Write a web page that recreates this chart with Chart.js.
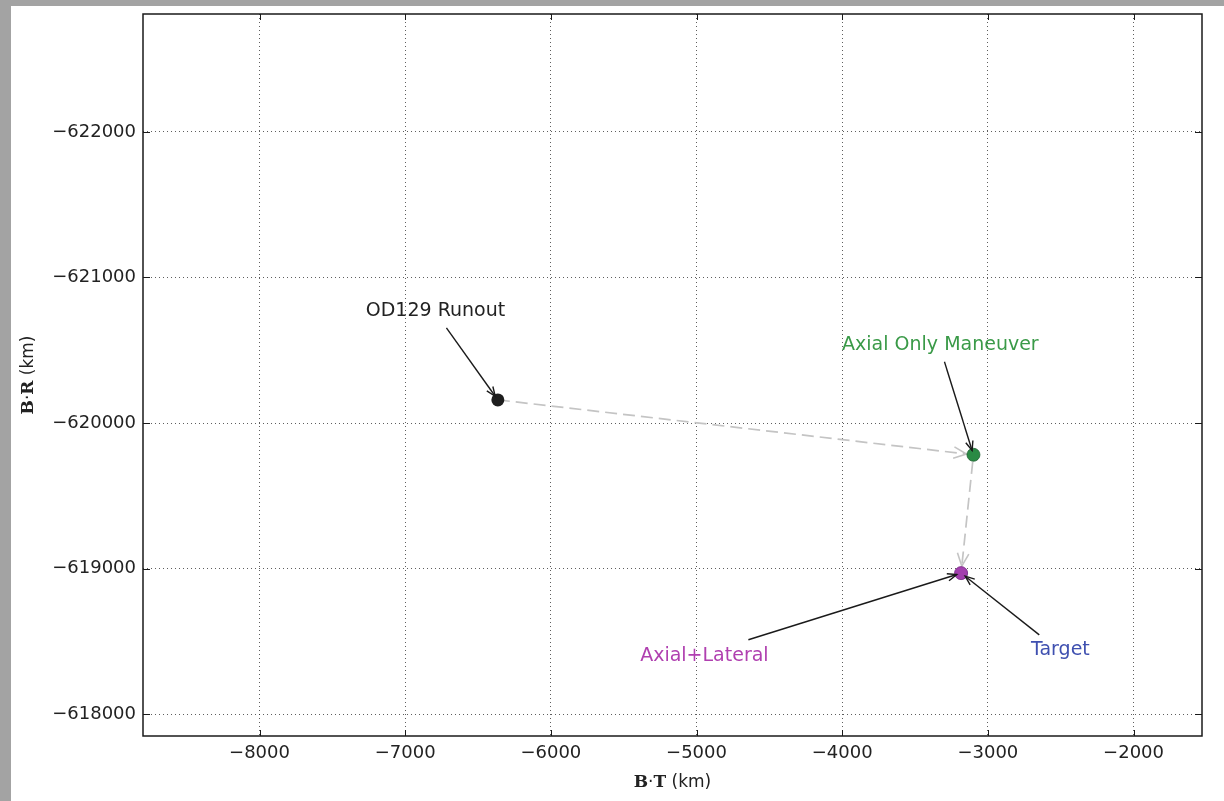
<!DOCTYPE html>
<html>
<head>
<meta charset="utf-8">
<script src="https://cdn.jsdelivr.net/npm/chart.js@4.4.1/dist/chart.umd.min.js"></script>
<style>
  html, body { margin: 0; padding: 0; }
  body { width: 1224px; height: 801px; background: #a3a3a3; position: relative; overflow: hidden; }
  #wrap { position: absolute; left: 11px; top: 6px; width: 1213px; height: 795px; background: #ffffff; }
  canvas { display: block; }
</style>
</head>
<body>
<div id="wrap"><canvas id="c" width="1213" height="795"></canvas></div>
<script>
// ---- data (B·T, B·R in km) ----
const pointNames = ['OD129 Runout', 'Axial Only Maneuver', 'Axial+Lateral', 'Target'];
const btValues = [-6364, -3099, -3184, -3180];
const brValues = [-620159, -619782, -618969, -618967];
// path of dashed transfer arrows (indices into points)
const pathOrder = [0, 1, 2];
// annotation text anchors (data coords) and arrow tails (data coords)
const labelBT = [-6792, -3326, -4946, -2502];
const labelBR = [-620771, -620537, -618401, -618442];
const tailBT = [-6717, -3298, -4644, -2647];
const tailBR = [-620654, -620421, -618511, -618545];
const xTicks = [-8000, -7000, -6000, -5000, -4000, -3000, -2000];
const yTicks = [-622000, -621000, -620000, -619000, -618000];
const xRange = [-8800, -1530];
const yRange = [-622810, -617850];

const pointColors = ['#1e1e1e', '#2a8a44', '#a23fae', '#3b4fb0'];
const labelColors = ['#222222', '#3a9a48', '#b040b0', '#3f50b0'];

const fmt = v => String(v).replace('-', '\u2212');

const pathData = pathOrder.map(i => ({x: btValues[i], y: brValues[i]}));

const datasets = [
  {
    label: 'path', data: pathData, showLine: true, borderColor: '#c4c4c4', borderWidth: 1.7,
    borderDash: [12, 6], pointRadius: 0, fill: false, order: 10
  },
  { label: pointNames[3], data: [{x: btValues[3], y: brValues[3]}], backgroundColor: pointColors[3], borderColor: pointColors[3], pointRadius: 6, borderWidth: 0, order: 5 },
  { label: pointNames[0], data: [{x: btValues[0], y: brValues[0]}], backgroundColor: pointColors[0], borderColor: pointColors[0], pointRadius: 6.5, borderWidth: 0, order: 1 },
  { label: pointNames[1], data: [{x: btValues[1], y: brValues[1]}], backgroundColor: pointColors[1], borderColor: '#1d5e2e', pointRadius: 6.5, borderWidth: 0.8, order: 1 },
  { label: pointNames[2], data: [{x: btValues[2], y: brValues[2]}], backgroundColor: pointColors[2], borderColor: '#7a2a85', pointRadius: 6.5, borderWidth: 0.8, order: 1 }
];

function arrowHead(ctx, x0, y0, x1, y1, len, ang) {
  const a = Math.atan2(y1 - y0, x1 - x0);
  ctx.beginPath();
  ctx.moveTo(x1 - len * Math.cos(a - ang), y1 - len * Math.sin(a - ang));
  ctx.lineTo(x1, y1);
  ctx.lineTo(x1 - len * Math.cos(a + ang), y1 - len * Math.sin(a + ang));
  ctx.stroke();
}

function drawMixed(ctx, parts, cx, cy) {
  let total = 0;
  parts.forEach(p => { ctx.font = p.f; p.w = ctx.measureText(p.t).width; total += p.w; });
  let x = cx - total / 2;
  ctx.textBaseline = 'middle';
  ctx.textAlign = 'left';
  parts.forEach(p => { ctx.font = p.f; ctx.fillText(p.t, x, cy); x += p.w; });
}

const decor = {
  id: 'decor',
  beforeDatasetsDraw(chart) {
    const {ctx, scales: {x, y}} = chart;
    ctx.save();
    ctx.strokeStyle = '#c4c4c4';
    ctx.lineWidth = 1.6;
    ctx.setLineDash([]);
    for (let k = 1; k < pathOrder.length; k++) {
      const a = pathOrder[k - 1], b = pathOrder[k];
      const x0 = x.getPixelForValue(btValues[a]), y0 = y.getPixelForValue(brValues[a]);
      const x1 = x.getPixelForValue(btValues[b]), y1 = y.getPixelForValue(brValues[b]);
      const d = Math.hypot(x1 - x0, y1 - y0);
      const s = 7;
      const ex = x1 - (x1 - x0) * s / d, ey = y1 - (y1 - y0) * s / d;
      arrowHead(ctx, x0, y0, ex, ey, 14, 0.42);
    }
    ctx.restore();
  },
  afterDraw(chart) {
    const {ctx, chartArea: ca, scales: {x, y}} = chart;
    ctx.save();
    ctx.strokeStyle = '#1a1a1a';
    ctx.lineWidth = 1.5;
    ctx.setLineDash([]);
    ctx.strokeRect(ca.left, ca.top, ca.right - ca.left, ca.bottom - ca.top);
    ctx.lineWidth = 1;
    ctx.beginPath();
    xTicks.forEach(v => {
      const px = Math.round(x.getPixelForValue(v)) + 0.5;
      ctx.moveTo(px, ca.bottom); ctx.lineTo(px, ca.bottom - 6);
      ctx.moveTo(px, ca.top); ctx.lineTo(px, ca.top + 6);
    });
    yTicks.forEach(v => {
      const py = Math.round(y.getPixelForValue(v)) + 0.5;
      ctx.moveTo(ca.left, py); ctx.lineTo(ca.left + 7, py);
      ctx.moveTo(ca.right, py); ctx.lineTo(ca.right - 7, py);
    });
    ctx.stroke();

    ctx.font = '19px "DejaVu Sans"';
    ctx.textAlign = 'center';
    ctx.textBaseline = 'middle';
    for (let i = 0; i < pointNames.length; i++) {
      const lx = x.getPixelForValue(labelBT[i]), ly = y.getPixelForValue(labelBR[i]);
      ctx.fillStyle = labelColors[i];
      ctx.fillText(pointNames[i], lx, ly);
      const tx = x.getPixelForValue(tailBT[i]), ty = y.getPixelForValue(tailBR[i]);
      const px = x.getPixelForValue(btValues[i]), py = y.getPixelForValue(brValues[i]);
      const d = Math.hypot(px - tx, py - ty);
      const s = 4.5;
      const ex = px - (px - tx) * s / d, ey = py - (py - ty) * s / d;
      ctx.strokeStyle = '#1a1a1a';
      ctx.lineWidth = 1.4;
      ctx.beginPath(); ctx.moveTo(tx, ty); ctx.lineTo(ex, ey); ctx.stroke();
      arrowHead(ctx, tx, ty, ex, ey, 10, 0.38);
    }

    ctx.fillStyle = '#222';
    const xParts = [
      {t: 'B', f: 'bold 17px "DejaVu Serif"'},
      {t: '\u00b7', f: '17px "DejaVu Sans"'},
      {t: 'T', f: 'bold 17px "DejaVu Serif"'},
      {t: ' (km)', f: '17px "DejaVu Sans"'}
    ];
    drawMixed(ctx, xParts, (ca.left + ca.right) / 2, 777);
    ctx.save();
    ctx.translate(18, (ca.top + ca.bottom) / 2);
    ctx.rotate(-Math.PI / 2);
    const yParts = [
      {t: 'B', f: 'bold 17px "DejaVu Serif"'},
      {t: '\u00b7', f: '17px "DejaVu Sans"'},
      {t: 'R', f: 'bold 17px "DejaVu Serif"'},
      {t: ' (km)', f: '17px "DejaVu Sans"'}
    ];
    drawMixed(ctx, yParts, 0, 0);
    ctx.restore();
    ctx.restore();
  }
};

new Chart(document.getElementById('c'), {
  type: 'scatter',
  data: { datasets },
  plugins: [decor],
  options: {
    responsive: false,
    animation: false,
    devicePixelRatio: 1,
    layout: { padding: { left: 0, top: 8, right: 22, bottom: 0 } },
    plugins: { legend: { display: false }, tooltip: { enabled: false } },
    scales: {
      x: {
        type: 'linear', min: xRange[0], max: xRange[1],
        afterBuildTicks: s => { s.ticks = xTicks.map(v => ({value: v})); },
        afterFit: s => { s.height = 65; s.paddingLeft = 0; s.paddingRight = 0; },
        grid: { color: 'rgba(40,40,40,0.75)', lineWidth: 1, drawTicks: false },
        border: { display: false, dash: [1, 3] },
        ticks: { color: '#222', font: { family: 'DejaVu Sans', size: 18 }, padding: 7, callback: v => fmt(v), maxRotation: 0 }
      },
      y: {
        type: 'linear', reverse: true, min: yRange[0], max: yRange[1],
        afterBuildTicks: s => { s.ticks = yTicks.map(v => ({value: v})); },
        afterFit: s => { s.width = 132; s.paddingTop = 0; s.paddingBottom = 0; },
        grid: { color: 'rgba(40,40,40,0.75)', lineWidth: 1, drawTicks: false },
        border: { display: false, dash: [1, 3] },
        ticks: { color: '#222', font: { family: 'DejaVu Sans', size: 18 }, padding: 7, callback: v => fmt(v) }
      }
    }
  }
});
</script>
</body>
</html>
